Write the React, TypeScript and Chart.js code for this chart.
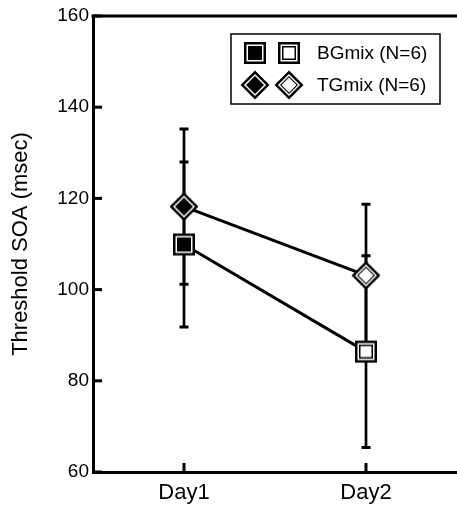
import React, { useEffect, useRef } from 'react';
import { Chart, registerables } from 'chart.js';

Chart.register(...registerables);

const categories = ['Day1', 'Day2'];
const bgMeans = [109.9, 86.4];
const bgErrors = [18.1, 21.0];
const tgMeans = [118.2, 103.1];
const tgErrors = [17.0, 15.6];
const yTickValues = [60, 80, 100, 120, 140, 160];
const legendLabels = ['BGmix (N=6)', 'TGmix (N=6)'];
const yTitle = 'Threshold SOA (msec)';

const FONT = '"Liberation Sans", Arial, Helvetica, sans-serif';

function makeMarker(shape: 'square' | 'diamond', filled: boolean): HTMLCanvasElement {
  const c = document.createElement('canvas');
  c.width = 32;
  c.height = 32;
  const ctx = c.getContext('2d')!;
  const cx = 16;
  const cy = 16;
  const layer = (r: number, color: string) => {
    ctx.fillStyle = color;
    ctx.beginPath();
    if (shape === 'square') {
      ctx.rect(cx - r, cy - r, 2 * r, 2 * r);
    } else {
      ctx.moveTo(cx, cy - r);
      ctx.lineTo(cx + r, cy);
      ctx.lineTo(cx, cy + r);
      ctx.lineTo(cx - r, cy);
      ctx.closePath();
    }
    ctx.fill();
  };
  if (shape === 'square') {
    layer(11, '#000');
    layer(8.5, '#fff');
    layer(7, '#000');
    if (!filled) layer(5.5, '#fff');
  } else {
    layer(14.5, '#000');
    layer(11, '#fff');
    layer(9, '#000');
    if (!filled) layer(7.5, '#fff');
  }
  return c;
}

export default function App() {
  const ref = useRef<HTMLCanvasElement | null>(null);

  useEffect(() => {
    const canvas = ref.current;
    if (!canvas) return;
    const sqFilled = makeMarker('square', true);
    const sqOpen = makeMarker('square', false);
    const diFilled = makeMarker('diamond', true);
    const diOpen = makeMarker('diamond', false);

    const errorSets = [bgErrors, tgErrors];
    const meanSets = [bgMeans, tgMeans];

    const decorPlugin = {
      id: 'decor',
      beforeDatasetsDraw(chart: any) {
        const ctx = chart.ctx;
        const yS = chart.scales.y;
        const xS = chart.scales.x;
        const area = chart.chartArea;
        ctx.save();
        ctx.strokeStyle = '#000';
        ctx.lineWidth = 3;
        ctx.lineCap = 'butt';
        // top frame line
        ctx.beginPath();
        ctx.moveTo(area.left - 1.5, area.top);
        ctx.lineTo(area.right, area.top);
        ctx.stroke();
        // inward y ticks
        yTickValues.forEach((v) => {
          const py = yS.getPixelForValue(v);
          ctx.beginPath();
          ctx.moveTo(area.left, py);
          ctx.lineTo(area.left + 9, py);
          ctx.stroke();
        });
        // inward x ticks
        categories.forEach((_, i) => {
          const px = xS.getPixelForValue(i);
          ctx.beginPath();
          ctx.moveTo(px, area.bottom);
          ctx.lineTo(px, area.bottom - 9);
          ctx.stroke();
        });
        // error bars
        ctx.lineWidth = 2.7;
        meanSets.forEach((means, di) => {
          const meta = chart.getDatasetMeta(di);
          means.forEach((m, i) => {
            const px = meta.data[i].x;
            const e = errorSets[di][i];
            const yTop = yS.getPixelForValue(m + e);
            const yBot = yS.getPixelForValue(m - e);
            ctx.beginPath();
            ctx.moveTo(px, yTop);
            ctx.lineTo(px, yBot);
            ctx.stroke();
            ctx.lineWidth = 3;
            ctx.beginPath();
            ctx.moveTo(px - 4.5, yTop);
            ctx.lineTo(px + 4.5, yTop);
            ctx.moveTo(px - 4.5, yBot);
            ctx.lineTo(px + 4.5, yBot);
            ctx.stroke();
            ctx.lineWidth = 2.7;
          });
        });
        ctx.restore();
      },
      afterDraw(chart: any) {
        const ctx = chart.ctx;
        ctx.save();
        // legend box
        ctx.strokeStyle = '#000';
        ctx.lineWidth = 1.5;
        ctx.strokeRect(231, 34, 209, 70);
        const rows = [
          { y: 53, a: sqFilled, b: sqOpen, label: legendLabels[0] },
          { y: 85, a: diFilled, b: diOpen, label: legendLabels[1] },
        ];
        ctx.fillStyle = '#000';
        ctx.font = `19px ${FONT}`;
        ctx.textBaseline = 'middle';
        ctx.textAlign = 'left';
        rows.forEach((r) => {
          ctx.drawImage(r.a, 255 - 16, r.y - 16);
          ctx.drawImage(r.b, 289 - 16, r.y - 16);
          ctx.fillText(r.label, 317, r.y + 1);
        });
        ctx.restore();
      },
    };

    const chart = new Chart(canvas, {
      type: 'line',
      data: {
        labels: categories,
        datasets: [
          {
            label: legendLabels[0],
            data: bgMeans,
            borderColor: '#000',
            borderWidth: 3,
            tension: 0,
            pointStyle: [sqFilled, sqOpen] as any,
            pointRadius: 11,
          },
          {
            label: legendLabels[1],
            data: tgMeans,
            borderColor: '#000',
            borderWidth: 3,
            tension: 0,
            pointStyle: [diFilled, diOpen] as any,
            pointRadius: 11,
          },
        ],
      },
      options: {
        responsive: false,
        animation: false,
        events: [],
        layout: { padding: { top: 16, left: 0, right: 0, bottom: 0 }, autoPadding: false },
        plugins: { legend: { display: false }, tooltip: { enabled: false } },
        scales: {
          x: {
            type: 'category',
            offset: true,
            grid: { display: false, drawTicks: false },
            border: { display: true, color: '#000', width: 3 },
            ticks: { color: '#000', font: { family: FONT, size: 22 }, padding: 8 },
            afterFit: (s: any) => {
              s.height = 35;
            },
          },
          y: {
            min: 60,
            max: 160,
            grid: { display: false, drawTicks: false },
            border: { display: true, color: '#000', width: 3 },
            ticks: { stepSize: 20, color: '#000', font: { family: FONT, size: 19 }, padding: 4 },
            title: {
              display: true,
              text: yTitle,
              color: '#000',
              font: { family: FONT, size: 22 },
              padding: { top: 8, bottom: 0 },
            },
            afterFit: (s: any) => {
              s.width = 93;
            },
          },
        },
      },
      plugins: [decorPlugin],
    });
    return () => chart.destroy();
  }, []);

  return (
    <div style={{ position: 'fixed', left: 0, top: 0, width: 457, height: 507, background: '#fff', overflow: 'hidden' }}>
      <canvas ref={ref} width={457} height={507} style={{ width: 457, height: 507, display: 'block' }} />
    </div>
  );
}
